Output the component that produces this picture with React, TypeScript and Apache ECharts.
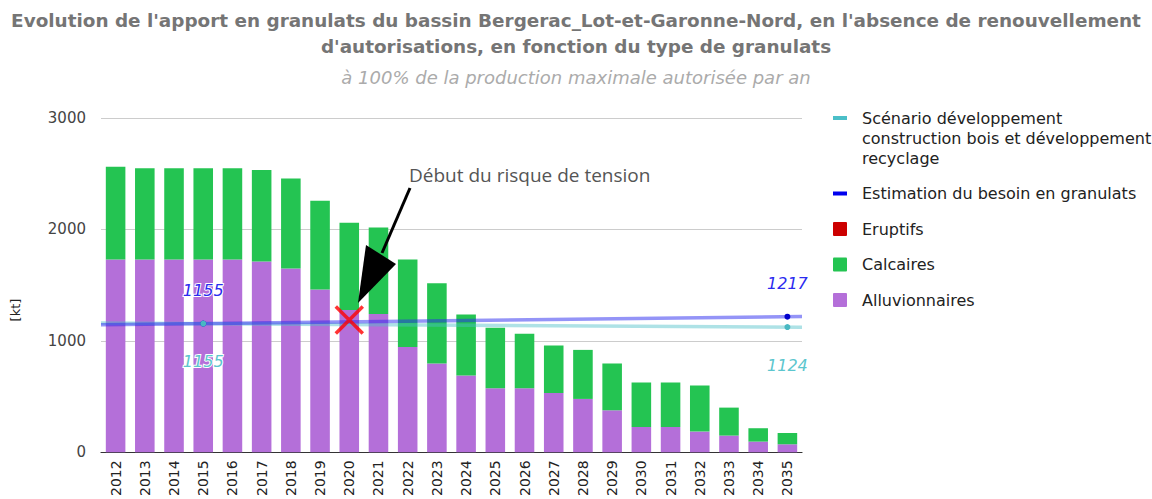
import React, { useEffect, useRef } from "react";
import * as echarts from "echarts";

const years = [
  "2012", "2013", "2014", "2015", "2016", "2017", "2018", "2019", "2020", "2021", "2022", "2023",
  "2024", "2025", "2026", "2027", "2028", "2029", "2030", "2031", "2032", "2033", "2034", "2035",
];
const alluvionnaires = [1731, 1731, 1731, 1731, 1731, 1713, 1650, 1462, 1276, 1240, 946, 797, 689, 575, 575, 533, 479, 377, 227, 227, 186, 150, 96, 72];
const calcaires = [832, 818, 818, 818, 818, 821, 806, 796, 784, 778, 785, 719, 548, 542, 488, 425, 440, 420, 399, 399, 413, 251, 120, 101];
const eruptifs = [0, 0, 0, 0, 0, 0, 0, 0, 0, 0, 0, 0, 0, 0, 0, 0, 0, 0, 0, 0, 0, 0, 0, 0];

const pointYears = [2015, 2035];
const besoin = [1155, 1217];
const scenario = [1155, 1124];

const yMin = 0;
const yMax = 3000;
const yInterval = 1000;

const riskYear = 2020;
const riskValue = 1187;
const riskLabel = "Début du risque de tension";

const TITLE_LINES = [
  "Evolution de l'apport en granulats du bassin Bergerac_Lot-et-Garonne-Nord, en l'absence de renouvellement",
  "d'autorisations, en fonction du type de granulats",
];
const SUBTITLE = "à 100% de la production maximale autorisée par an";

const C_ALLUV = "#b46fd9";
const C_CALC = "#24c452";
const C_ERUP = "#cc0000";
const C_BESOIN = "#0000ee";
const C_SCEN = "#4bbfc8";

const legendItems = [
  { name: "Scénario développement\nconstruction bois et développement\nrecyclage", color: C_SCEN, kind: "line" },
  { name: "Estimation du besoin en granulats", color: C_BESOIN, kind: "line" },
  { name: "Eruptifs", color: C_ERUP, kind: "box" },
  { name: "Calcaires", color: C_CALC, kind: "box" },
  { name: "Alluvionnaires", color: C_ALLUV, kind: "box" },
];

const xDomainMin = Number(years[0]) - 0.5;
const xDomainMax = Number(years[years.length - 1]) + 0.5;

function trend(xs: number[], ys: number[]): number[][] {
  const n = xs.length;
  const mx = xs.reduce((a, b) => a + b, 0) / n;
  const my = ys.reduce((a, b) => a + b, 0) / n;
  let num = 0;
  let den = 0;
  for (let i = 0; i < n; i++) {
    num += (xs[i] - mx) * (ys[i] - my);
    den += (xs[i] - mx) * (xs[i] - mx);
  }
  const slope = den === 0 ? 0 : num / den;
  const f = (x: number) => my + slope * (x - mx);
  return [
    [xDomainMin, f(xDomainMin)],
    [xDomainMax, f(xDomainMax)],
  ];
}

const FONT = "'DejaVu Sans', Verdana, sans-serif";

function txt(text: string, x: number, y: number, font: string, fill: string, align = "left", vAlign = "middle") {
  return {
    type: "text",
    style: {
      text,
      x,
      y,
      font,
      fill,
      textAlign: align,
      textVerticalAlign: vAlign,
      align,
      verticalAlign: vAlign,
    },
  };
}

function buildLegend() {
  const els: any[] = [];
  let y = 118;
  legendItems.forEach((it) => {
    const lines = it.name.split("\n").length;
    if (it.kind === "line") {
      els.push({ type: "rect", shape: { x: 833, y: y - 2, width: 14, height: 4 }, style: { fill: it.color } });
    } else {
      els.push({ type: "rect", shape: { x: 833, y: y - 7, width: 14, height: 14, r: 1 }, style: { fill: it.color } });
    }
    const t: any = txt(it.name, 862, y - 10, "16px " + FONT, "#222", "left", "top");
    t.style.lineHeight = 20;
    els.push(t);
    y += lines * 20 + 15.5;
  });
  return els;
}

export default function App() {
  const ref = useRef<HTMLDivElement>(null);
  useEffect(() => {
    document.body.style.margin = "0";
    if (!ref.current) return;
    const chart = echarts.init(ref.current, null, { renderer: "svg" });
    const option: any = {
      animation: false,
      backgroundColor: "#fff",
      grid: { left: 101, right: 350, top: 118, bottom: 46.7, containLabel: false, outerBoundsMode: "none" },
      xAxis: [
        {
          type: "category",
          data: years,
          boundaryGap: true,
          axisLine: { show: true, lineStyle: { color: "#333", width: 1.2 } },
          axisTick: { show: false },
          axisLabel: { rotate: 90, fontFamily: FONT, fontSize: 14, color: "#222", margin: 8, interval: 0 },
          splitLine: { show: false },
        },
        {
          type: "value",
          min: xDomainMin,
          max: xDomainMax,
          show: false,
          splitLine: { show: false },
        },
      ],
      yAxis: {
        type: "value",
        min: yMin,
        max: yMax,
        interval: yInterval,
        axisLine: { show: false },
        axisTick: { show: false },
        axisLabel: { fontFamily: FONT, fontSize: 15, color: "#444", margin: 15, formatter: (v: number) => String(v) },
        splitLine: { lineStyle: { color: "#cccccc", width: 1 } },
      },
      series: [
        {
          name: "Alluvionnaires",
          type: "bar",
          stack: "g",
          data: alluvionnaires,
          barWidth: "67%",
          itemStyle: { color: C_ALLUV },
        },
        {
          name: "Calcaires",
          type: "bar",
          stack: "g",
          data: calcaires,
          barWidth: "67%",
          itemStyle: { color: C_CALC },
        },
        {
          name: "Eruptifs",
          type: "bar",
          stack: "g",
          data: eruptifs,
          barWidth: "67%",
          itemStyle: { color: C_ERUP },
        },
        {
          name: "Scénario trend",
          type: "line",
          xAxisIndex: 1,
          data: trend(pointYears, scenario),
          symbol: "none",
          lineStyle: { color: C_SCEN, width: 3.5, opacity: 0.45 },
          z: 5,
        },
        {
          name: "Besoin trend",
          type: "line",
          xAxisIndex: 1,
          data: trend(pointYears, besoin),
          symbol: "none",
          lineStyle: { color: "#2a2af0", width: 3.5, opacity: 0.5 },
          z: 5,
        },
        {
          name: "Estimation du besoin en granulats",
          type: "scatter",
          xAxisIndex: 1,
          data: pointYears.map((x, i) => [x, besoin[i]]),
          symbolSize: 6,
          itemStyle: { color: "#0000cc", opacity: 1 },
          label: {
            show: true,
            position: "top",
            distance: 22,
            formatter: (p: any) => String(p.value[1]),
            fontFamily: FONT,
            fontSize: 16,
            fontStyle: "italic",
            color: "#2b2bf0",
            textBorderColor: "#fff",
            textBorderWidth: 2,
          },
          z: 6,
        },
        {
          name: "Scénario développement construction bois et développement recyclage",
          type: "scatter",
          xAxisIndex: 1,
          data: pointYears.map((x, i) => [x, scenario[i]]),
          symbolSize: 6,
          itemStyle: { color: "#48b8c2", opacity: 1 },
          label: {
            show: true,
            position: "bottom",
            distance: 27,
            formatter: (p: any) => String(p.value[1]),
            fontFamily: FONT,
            fontSize: 16,
            fontStyle: "italic",
            color: "#5cc6ce",
            textBorderColor: "#fff",
            textBorderWidth: 2,
          },
          z: 7,
        },
        {
          name: "Risque",
          type: "scatter",
          xAxisIndex: 1,
          data: [[riskYear, riskValue]],
          symbol: "path://M0,0 L10,10 M10,0 L0,10",
          symbolSize: 27,
          itemStyle: { color: "none", borderColor: "#ff0000", borderWidth: 3.5 },
          z: 8,
        },
      ],
      graphic: [
        txt(TITLE_LINES[0], 576, 20, "bold 18.4px " + FONT, "#757575", "center"),
        txt(TITLE_LINES[1], 576, 46, "bold 18.4px " + FONT, "#757575", "center"),
        txt(SUBTITLE, 576, 77, "italic 18px " + FONT, "#ababab", "center"),
        {
          type: "text",
          rotation: Math.PI / 2,
          x: 15,
          y: 310,
          style: {
            text: "[kt]",
            fill: "#222",
            font: "13px " + FONT,
            textAlign: "center",
            textVerticalAlign: "middle",
            align: "center",
            verticalAlign: "middle",
          },
        },
        txt(riskLabel, 409, 175, "19px 'Open Sans', sans-serif", "#555", "left"),
        {
          type: "line",
          shape: { x1: 410, y1: 188, x2: 382, y2: 253 },
          style: { stroke: "#000", lineWidth: 3 },
          z: 20,
        },
        {
          type: "polygon",
          shape: { points: [[358, 303], [366, 245], [396, 264]] },
          style: { fill: "#000" },
          z: 20,
        },
        ...buildLegend(),
      ],
    };
    chart.setOption(option);
    return () => chart.dispose();
  }, []);
  return <div ref={ref} style={{ width: 1152, height: 499 }} />;
}
